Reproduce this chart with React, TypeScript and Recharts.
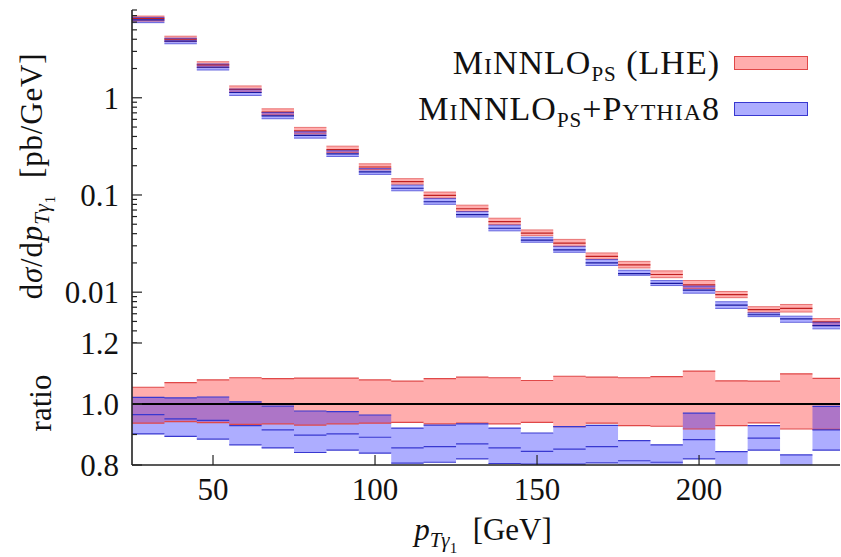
import React from 'react';
import { ComposedChart, Area, Line, XAxis, YAxis, ReferenceLine } from 'recharts';

// bins in p_T(gamma1) [GeV]
const BIN_LO = [25, 35, 45, 55, 65, 75, 85, 95, 105, 115, 125, 135, 145, 155, 165, 175, 185, 195, 205, 215, 225, 235];
const BIN_HI = [35, 45, 55, 65, 75, 85, 95, 105, 115, 125, 135, 145, 155, 165, 175, 185, 195, 205, 215, 225, 235, 245];

// MiNNLO_PS (LHE) central value, pb/GeV
const LHE_CENTRAL = [6.57, 4.02, 2.18, 1.22, 0.711, 0.457, 0.293, 0.194, 0.137, 0.099, 0.0722, 0.0531, 0.0406, 0.032, 0.0233, 0.0191, 0.0152, 0.0119, 0.00945, 0.0066, 0.0068, 0.00494];

// ratios to the LHE central value
const LHE_LO = [0.937, 0.942, 0.939, 0.933, 0.935, 0.931, 0.935, 0.937, 0.94, 0.935, 0.937, 0.935, 0.94, 0.926, 0.937, 0.929, 0.927, 0.918, 0.929, 0.938, 0.918, 0.917];
const LHE_HI = [1.055, 1.07, 1.079, 1.086, 1.083, 1.085, 1.085, 1.079, 1.075, 1.083, 1.088, 1.086, 1.077, 1.091, 1.088, 1.086, 1.09, 1.108, 1.076, 1.075, 1.099, 1.084];
const PY8_HI = [1.022, 1.02, 1.023, 1.007, 0.993, 0.977, 0.975, 0.964, 0.921, 0.931, 0.935, 0.921, 0.905, 0.926, 0.93, 0.88, 0.866, 0.97, 0.844, 0.929, 0.833, 0.992];
const PY8_MID = [0.965, 0.951, 0.946, 0.929, 0.915, 0.898, 0.902, 0.891, 0.856, 0.86, 0.869, 0.856, 0.845, 0.852, 0.86, 0.814, 0.809, 0.883, 0.78, 0.888, 0.78, 0.915];
const PY8_LO = [0.902, 0.894, 0.885, 0.866, 0.856, 0.841, 0.849, 0.839, 0.806, 0.809, 0.82, 0.805, 0.803, 0.803, 0.807, 0.78, 0.77, 0.82, 0.72, 0.849, 0.72, 0.849];

const X_TICKS = [50, 100, 150, 200];
const LOG_TICKS = [
  0.003, 0.004, 0.005, 0.006, 0.007, 0.008, 0.009,
  0.01, 0.02, 0.03, 0.04, 0.05, 0.06, 0.07, 0.08, 0.09,
  0.1, 0.2, 0.3, 0.4, 0.5, 0.6, 0.7, 0.8, 0.9,
  1, 2, 3, 4, 5, 6, 7, 8,
];
const LOG_MAJOR = [0.01, 0.1, 1];
const RATIO_TICKS = [0.8, 0.9, 1.0, 1.1, 1.2];
const RATIO_MAJOR = [0.8, 1.0, 1.2];

const RED = '#e04848';
const BLUE = '#3838d0';
const FONT = '"Liberation Serif", "DejaVu Serif", serif';

const PLOT_LEFT = 132;
const PLOT_RIGHT = 840;
const UPPER_BOTTOM = 343;
const RATIO_TOP = 20;
const RATIO_BOTTOM = 142;

const GAP = {
  lheBand: [null, null], py8Band: [null, null],
  lheLo: null, lheMid: null, lheHi: null, py8Lo: null, py8Mid: null, py8Hi: null,
  rLheBand: [null, null], rPy8Band: [null, null],
  rLheLo: null, rLheHi: null, rPy8Lo: null, rPy8Mid: null, rPy8Hi: null,
};

const rows: any[] = [];
BIN_LO.forEach((lo, i) => {
  const c = LHE_CENTRAL[i];
  const v = {
    lheBand: [c * LHE_LO[i], c * LHE_HI[i]],
    py8Band: [c * PY8_LO[i], c * PY8_HI[i]],
    lheLo: c * LHE_LO[i], lheMid: c, lheHi: c * LHE_HI[i],
    py8Lo: c * PY8_LO[i], py8Mid: c * PY8_MID[i], py8Hi: c * PY8_HI[i],
    rLheBand: [LHE_LO[i], LHE_HI[i]], rPy8Band: [PY8_LO[i], PY8_HI[i]],
    rLheLo: LHE_LO[i], rLheHi: LHE_HI[i], rPy8Lo: PY8_LO[i], rPy8Mid: PY8_MID[i], rPy8Hi: PY8_HI[i],
  };
  rows.push({ x: lo, ...v }, { x: BIN_HI[i], ...v }, { x: BIN_HI[i], ...GAP });
});

function YTick(props: any) {
  const { y, payload, side, major, labels, fmt } = props;
  const v = payload.value;
  const isMajor = major.some((m: number) => Math.abs(m - v) < 1e-9);
  const len = isMajor ? 10 : 5;
  if (side === 'right') {
    return <line x1={PLOT_RIGHT} x2={PLOT_RIGHT - len} y1={y} y2={y} stroke="#222" strokeWidth={1.2} />;
  }
  return (
    <g>
      <line x1={PLOT_LEFT} x2={PLOT_LEFT + len} y1={y} y2={y} stroke="#222" strokeWidth={1.2} />
      {isMajor && labels && (
        <text x={PLOT_LEFT - 13} y={y} dy="0.35em" textAnchor="end" fontSize={31} fontFamily={FONT} fill="#111">
          {fmt(v)}
        </text>
      )}
    </g>
  );
}

function XTick(props: any) {
  const { x, payload, edge, labels, base } = props;
  const y0 = edge === 'top' ? RATIO_TOP : base;
  const dir = edge === 'top' ? 1 : -1;
  return (
    <g>
      <line x1={x} x2={x} y1={y0} y2={y0 + dir * 10} stroke="#222" strokeWidth={1.2} />
      {labels && (
        <text x={x} y={base + 24} dy="0.35em" textAnchor="middle" fontSize={31} fontFamily={FONT} fill="#111">
          {payload.value}
        </text>
      )}
    </g>
  );
}

const axisLine = { stroke: '#222', strokeWidth: 1.6 };

function SC({ children }: { children: React.ReactNode }) {
  return <span style={{ fontVariant: 'small-caps' }}>{children}</span>;
}

function Sub({ children }: { children: React.ReactNode }) {
  return <span style={{ fontVariant: 'small-caps', fontSize: 30, position: 'relative', top: 7 }}>{children}</span>;
}

function LegendRow({ children, fill, stroke }: any) {
  return (
    <div style={{ display: 'flex', alignItems: 'center', justifyContent: 'flex-end', height: 46 }}>
      <span style={{ whiteSpace: 'nowrap', letterSpacing: 1 }}>{children}</span>
      <span style={{ display: 'inline-block', width: 72, height: 12, marginLeft: 14, background: fill, border: `1.5px solid ${stroke}` }} />
    </div>
  );
}

export default function App() {
  return (
    <div style={{ position: 'fixed', left: 0, top: 0, width: 841, height: 557, background: '#fff', overflow: 'hidden', fontFamily: FONT, color: '#111' }}>
      <div style={{ position: 'absolute', left: 0, top: 0 }}>
        <ComposedChart width={841} height={UPPER_BOTTOM} data={rows} margin={{ top: 10, right: 1, bottom: 0, left: 0 }}>
          <XAxis dataKey="x" type="number" domain={[25, 243.5]} allowDataOverflow ticks={X_TICKS} interval={0} height={0}
            axisLine={axisLine} tickLine={false} tick={<XTick edge="bottom" base={UPPER_BOTTOM} labels={false} />} />
          <XAxis xAxisId="top" orientation="top" dataKey="x" type="number" domain={[25, 243.5]} allowDataOverflow height={0}
            axisLine={axisLine} tickLine={false} tick={false} />
          <YAxis type="number" scale="log" domain={[0.003, 8]} allowDataOverflow ticks={LOG_TICKS} interval={0} width={PLOT_LEFT}
            axisLine={axisLine} tickLine={false} tick={<YTick side="left" major={LOG_MAJOR} labels fmt={(v: number) => String(v)} />} />
          <YAxis yAxisId="right" orientation="right" type="number" scale="log" domain={[0.003, 8]} allowDataOverflow ticks={LOG_TICKS} interval={0} width={0}
            axisLine={axisLine} tickLine={false} tick={<YTick side="right" major={LOG_MAJOR} />} />
          <Area dataKey="lheBand" type="linear" fill="#ff0000" fillOpacity={0.32} stroke="none" isAnimationActive={false} />
          <Area dataKey="py8Band" type="linear" fill="#0000ff" fillOpacity={0.32} stroke="none" isAnimationActive={false} />
          <Line dataKey="lheHi" stroke={RED} strokeOpacity={0.7} strokeWidth={1} dot={false} isAnimationActive={false} />
          <Line dataKey="lheLo" stroke={RED} strokeOpacity={0.7} strokeWidth={1} dot={false} isAnimationActive={false} />
          <Line dataKey="lheMid" stroke="#c02020" strokeWidth={1.2} dot={false} isAnimationActive={false} />
          <Line dataKey="py8Hi" stroke={BLUE} strokeOpacity={0.7} strokeWidth={1} dot={false} isAnimationActive={false} />
          <Line dataKey="py8Lo" stroke={BLUE} strokeOpacity={0.7} strokeWidth={1} dot={false} isAnimationActive={false} />
          <Line dataKey="py8Mid" stroke="#1a1aa0" strokeWidth={1.2} dot={false} isAnimationActive={false} />
        </ComposedChart>
      </div>

      <div style={{ position: 'absolute', left: 0, top: UPPER_BOTTOM - RATIO_TOP }}>
        <ComposedChart width={841} height={234} data={rows} margin={{ top: RATIO_TOP, right: 1, bottom: 0, left: 0 }}>
          <XAxis dataKey="x" type="number" domain={[25, 243.5]} allowDataOverflow ticks={X_TICKS} interval={0} height={234 - RATIO_BOTTOM}
            axisLine={axisLine} tickLine={false} tick={<XTick edge="bottom" base={RATIO_BOTTOM} labels />} />
          <XAxis xAxisId="top" orientation="top" dataKey="x" type="number" domain={[25, 243.5]} allowDataOverflow ticks={X_TICKS} interval={0} height={0}
            axisLine={axisLine} tickLine={false} tick={<XTick edge="top" labels={false} />} />
          <YAxis type="number" domain={[0.8, 1.2]} allowDataOverflow ticks={RATIO_TICKS} interval={0} width={PLOT_LEFT}
            axisLine={axisLine} tickLine={false} tick={<YTick side="left" major={RATIO_MAJOR} labels fmt={(v: number) => v.toFixed(1)} />} />
          <YAxis yAxisId="right" orientation="right" type="number" domain={[0.8, 1.2]} allowDataOverflow ticks={RATIO_TICKS} interval={0} width={0}
            axisLine={axisLine} tickLine={false} tick={<YTick side="right" major={RATIO_MAJOR} />} />
          <Area dataKey="rLheBand" type="linear" fill="#ff0000" fillOpacity={0.32} stroke="none" isAnimationActive={false} />
          <Area dataKey="rPy8Band" type="linear" fill="#0000ff" fillOpacity={0.32} stroke="none" isAnimationActive={false} />
          <Line dataKey="rLheHi" stroke={RED} strokeWidth={1.2} dot={false} isAnimationActive={false} />
          <Line dataKey="rLheLo" stroke={RED} strokeWidth={1.2} dot={false} isAnimationActive={false} />
          <Line dataKey="rPy8Hi" stroke={BLUE} strokeWidth={1.2} dot={false} isAnimationActive={false} />
          <Line dataKey="rPy8Mid" stroke={BLUE} strokeWidth={1.2} dot={false} isAnimationActive={false} />
          <Line dataKey="rPy8Lo" stroke={BLUE} strokeWidth={1.2} dot={false} isAnimationActive={false} />
          <ReferenceLine y={1} stroke="#000" strokeWidth={1.8} />
        </ComposedChart>
      </div>

      {/* legend */}
      <div style={{ position: 'absolute', right: 33, top: 40, fontSize: 34, lineHeight: 1 }}>
        <LegendRow fill="rgba(255,0,0,0.32)" stroke={RED}>
          <SC>MiNNLO</SC><Sub>ps</Sub> (LHE)
        </LegendRow>
        <LegendRow fill="rgba(0,0,255,0.32)" stroke={BLUE}>
          <SC>MiNNLO</SC><Sub>ps</Sub>+<SC>Pythia8</SC>
        </LegendRow>
      </div>

      {/* axis titles */}
      <div style={{ position: 'absolute', left: 37, top: 176, fontSize: 31, lineHeight: 1, letterSpacing: 0.8, whiteSpace: 'nowrap', transform: 'translate(-50%, -50%) rotate(-90deg)' }}>
        d<i>σ</i>/d<i>p</i><sub style={{ fontSize: 21 }}><i>Tγ</i><sub style={{ fontSize: 15 }}>1</sub></sub>&nbsp;&nbsp;[pb/GeV]
      </div>
      <div style={{ position: 'absolute', left: 40, top: 403, fontSize: 31, lineHeight: 1, whiteSpace: 'nowrap', transform: 'translate(-50%, -50%) rotate(-90deg)' }}>
        ratio
      </div>
      <div style={{ position: 'absolute', left: 483, top: 535, fontSize: 31, lineHeight: 1, whiteSpace: 'nowrap', transform: 'translate(-50%, -50%)' }}>
        <i>p</i><sub style={{ fontSize: 21, lineHeight: 1 }}><i>Tγ</i><sub style={{ fontSize: 15, lineHeight: 1 }}>1</sub></sub>&nbsp;&nbsp;[GeV]
      </div>
    </div>
  );
}
